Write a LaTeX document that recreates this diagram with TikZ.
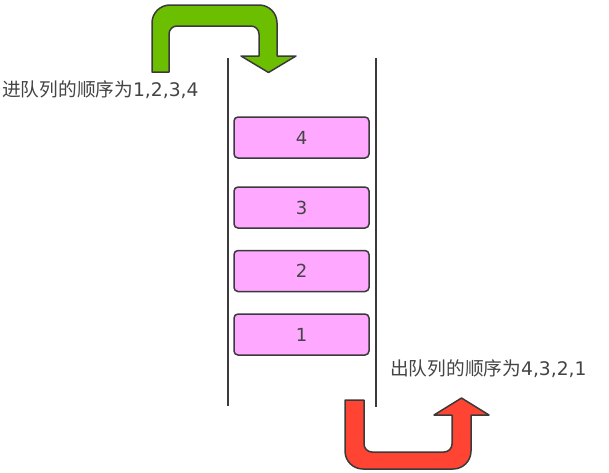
\documentclass[tikz,border=0pt]{standalone}
\usepackage{fontspec}
\setmainfont{DejaVu Sans}
\newfontfamily\cjkfont{Noto Sans CJK SC}
\usepackage{tikz}
\usepackage{xcolor}
\definecolor{itemfill}{HTML}{FFA8FF}
\definecolor{inarrow}{HTML}{6CBE00}
\definecolor{outarrow}{HTML}{FF4433}
\definecolor{edgegray}{HTML}{3A3A3A}
\definecolor{textgray}{HTML}{444444}

\begin{document}
\begin{tikzpicture}[x=1pt,y=-1pt,
  item/.style={draw=edgegray,line width=1.5pt,fill=itemfill,rounded corners=4pt,
    minimum width=135pt,minimum height=41pt,inner sep=0pt,text=textgray,
    font=\fontsize{18}{22}\selectfont},
  lbl/.style={anchor=west,inner sep=0pt,text=textgray,font=\fontsize{18.7}{22}\selectfont},
  wall/.style={draw=edgegray,line width=1.5pt}]
  \useasboundingbox (0,0) rectangle (609,472);
  \draw[wall] (228,58) -- (228,406);
  \draw[wall] (376,58) -- (376,407);
  \node[item] (q4) at (301.5,137.5){4};
  \node[item] (q3) at (301.5,207.5){3};
  \node[item] (q2) at (301.5,271){2};
  \node[item] (q1) at (301.5,334.5){1};
  \draw[fill=inarrow,draw=edgegray,line width=1.5pt,line join=round]
    (152,72) -- (152,23) .. controls (152,13) and (160,5) .. (170,5)
    -- (259,5) .. controls (269,5) and (277,13) .. (277,23)
    -- (277,56) -- (296,56) -- (268.5,72.5) -- (241,56) -- (259,56)
    -- (259,34) .. controls (259,29.6) and (255.4,26) .. (251,26)
    -- (177,26) .. controls (172.6,26) and (169,29.6) .. (169,34)
    -- (169,72) -- cycle;
  \draw[fill=outarrow,draw=edgegray,line width=1.5pt,line join=round]
    (345,400) -- (345,451) .. controls (345,461) and (353,469) .. (363,469)
    -- (453,469) .. controls (463,469) and (471,461) .. (471,451)
    -- (471,415) -- (489,415) -- (461.5,398) -- (434,415) -- (452,415)
    -- (452,444) .. controls (452,448.4) and (448.4,452) .. (444,452)
    -- (372,452) .. controls (367.6,452) and (364,448.4) .. (364,444)
    -- (364,400) -- cycle;
  \node[lbl] (inlbl) at (2,90){{\cjkfont 进队列的顺序为}1,2,3,4};
  \node[lbl] (outlbl) at (390,369){{\cjkfont 出队列的顺序为}4,3,2,1};
\end{tikzpicture}
\end{document}
